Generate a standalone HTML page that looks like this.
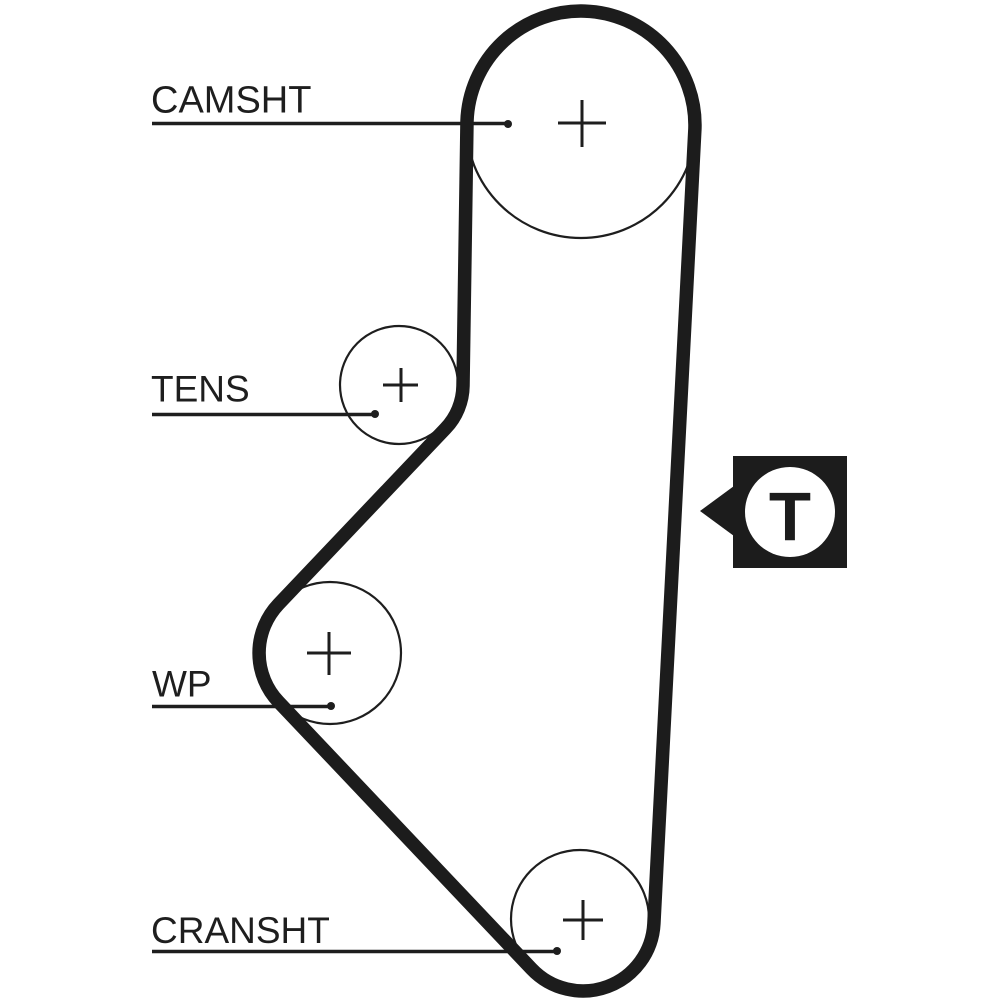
<!DOCTYPE html>
<html>
<head>
<meta charset="utf-8">
<style>
  html, body { margin: 0; padding: 0; background: #ffffff; }
  body { width: 1000px; height: 1000px; overflow: hidden; }
  svg { display: block; }
  text { font-family: "Liberation Sans", Arial, sans-serif; fill: #1e1e1e; }
</style>
</head>
<body>
<svg width="1000" height="1000" viewBox="0 0 1000 1000" xmlns="http://www.w3.org/2000/svg">
  <rect width="1000" height="1000" fill="#ffffff"/>

  <!-- thin pulley circles -->
  <g fill="none" stroke="#1e1e1e" stroke-width="2.2">
    <circle cx="581" cy="123" r="115"/>
    <circle cx="399" cy="385" r="59"/>
    <circle cx="330" cy="653" r="71"/>
    <circle cx="580" cy="919" r="69"/>
  </g>

  <!-- leader lines -->
  <g stroke="#1e1e1e" stroke-width="3.5" fill="none">
    <line x1="152" y1="123.5" x2="508" y2="123.5"/>
    <line x1="152" y1="414.5" x2="375" y2="414.5"/>
    <line x1="152" y1="706.5" x2="331" y2="706.5"/>
    <line x1="152" y1="951.5" x2="557" y2="951.5"/>
  </g>
  <g fill="#1e1e1e">
    <circle cx="508" cy="124" r="4"/>
    <circle cx="375" cy="414" r="4"/>
    <circle cx="331" cy="706" r="4"/>
    <circle cx="557" cy="951" r="4"/>
  </g>

  <!-- belt -->
  <path d="M 467 121.3
           A 114 114 0 1 1 694.9 128.9
           L 653.9 923.6
           A 71 71 0 0 1 531.5 968.8
           L 278.5 701.8
           A 71 71 0 0 1 278.6 604.1
           L 445.6 428.4
           A 63 63 0 0 0 463 385.9
           Z"
        fill="none" stroke="#1c1c1c" stroke-width="13.5" stroke-linejoin="round"/>

  <!-- plus marks -->
  <g stroke="#1e1e1e" stroke-width="3" fill="none">
    <line x1="558" y1="123" x2="606" y2="123"/>
    <line x1="582" y1="100" x2="582" y2="147"/>
    <line x1="383" y1="385" x2="418" y2="385"/>
    <line x1="401" y1="368" x2="401" y2="402"/>
    <line x1="307" y1="653" x2="351" y2="653"/>
    <line x1="329" y1="632" x2="329" y2="675"/>
    <line x1="563" y1="920" x2="603" y2="920"/>
    <line x1="583" y1="900" x2="583" y2="940"/>
  </g>

  <!-- labels -->
  <text x="151" y="112.5" font-size="38">CAMSHT</text>
  <text x="151" y="401.5" font-size="37">TENS</text>
  <text x="152" y="696.5" font-size="37">WP</text>
  <text x="151" y="943" font-size="37">CRANSHT</text>

  <!-- T marker -->
  <rect x="733" y="456" width="114" height="112" fill="#1c1c1c"/>
  <polygon points="700,511 734,486 734,536" fill="#1c1c1c"/>
  <circle cx="790" cy="512" r="45" fill="#ffffff"/>
  <text x="790" y="540" font-size="69" font-weight="bold" text-anchor="middle" fill="#1c1c1c" style="fill:#1c1c1c">T</text>
</svg>
</body>
</html>
